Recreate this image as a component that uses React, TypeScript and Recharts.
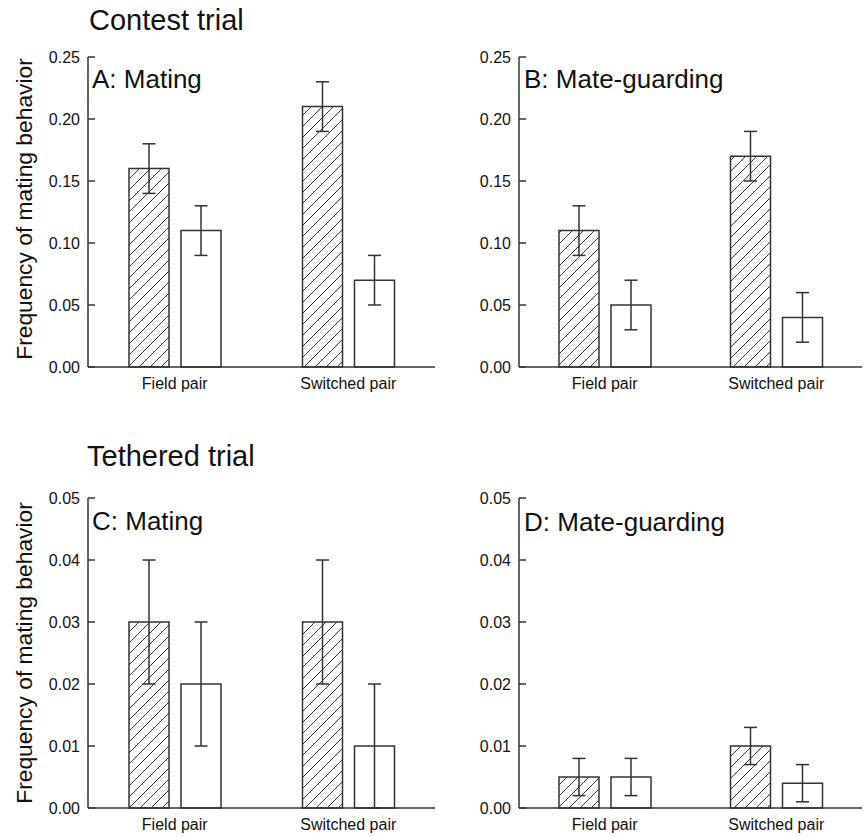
import React from "react";
import { Bar, BarChart, ErrorBar, XAxis, YAxis } from "recharts";

const FONT = '"Liberation Sans", Arial, Helvetica, sans-serif';
const INK = "#333333";

const pairs = ["Field pair", "Switched pair"];

// contest trial
const contestMatingHatched = [0.16, 0.21];
const contestMatingHatchedErr = [0.02, 0.02];
const contestMatingOpen = [0.11, 0.07];
const contestMatingOpenErr = [0.02, 0.02];

const contestGuardHatched = [0.11, 0.17];
const contestGuardHatchedErr = [0.02, 0.02];
const contestGuardOpen = [0.05, 0.04];
const contestGuardOpenErr = [0.02, 0.02];

// tethered trial
const tetheredMatingHatched = [0.03, 0.03];
const tetheredMatingHatchedErr = [0.01, 0.01];
const tetheredMatingOpen = [0.02, 0.01];
const tetheredMatingOpenErr = [0.01, 0.01];

const tetheredGuardHatched = [0.005, 0.01];
const tetheredGuardHatchedErr = [0.003, 0.003];
const tetheredGuardOpen = [0.005, 0.004];
const tetheredGuardOpenErr = [0.003, 0.003];

const contestTicks = [0, 0.05, 0.1, 0.15, 0.2, 0.25];
const tetheredTicks = [0, 0.01, 0.02, 0.03, 0.04, 0.05];

function buildRows(
  hatched: number[],
  hatchedErr: number[],
  open: number[],
  openErr: number[]
) {
  return pairs.map((pair, i) => ({
    pair,
    hatched: hatched[i],
    hatchedErr: hatchedErr[i],
    open: open[i],
    openErr: openErr[i]
  }));
}

interface PanelProps {
  rows: ReturnType<typeof buildRows>;
  ticks: number[];
  left: number;
  top: number;
  width: number;
  height: number;
  margin: { top: number; right: number; bottom: number; left: number };
  patternId: string;
}

function Panel({ rows, ticks, left, top, width, height, margin, patternId }: PanelProps) {
  const line = { stroke: INK, strokeWidth: 1.5 };
  const tickStyle = { fill: "#111", fontSize: 16, fontFamily: FONT };
  return (
    <div style={{ position: "absolute", left, top }}>
      <BarChart width={width} height={height} data={rows} margin={margin} barGap={12} barSize={40}>
        <defs>
          <pattern id={patternId} patternUnits="userSpaceOnUse" width={11} height={11}>
            <rect width={11} height={11} fill="#fff" />
            <path d="M0,11 L11,0 M-2,2 L2,-2 M9,13 L13,9" stroke={INK} strokeWidth={1} />
          </pattern>
        </defs>
        <XAxis
          dataKey="pair"
          height={25}
          tickLine={false}
          axisLine={line}
          tickMargin={5}
          tick={tickStyle}
        />
        <XAxis
          xAxisId="top"
          dataKey="pair"
          orientation="top"
          height={0}
          tick={false}
          tickLine={false}
          axisLine={line}
        />
        <YAxis
          domain={[0, ticks[ticks.length - 1]]}
          ticks={ticks}
          interval={0}
          width={60}
          tickSize={-7}
          tickMargin={15}
          axisLine={line}
          tickLine={line}
          tick={tickStyle}
          tickFormatter={(v: number) => v.toFixed(2)}
        />
        <YAxis
          yAxisId="right"
          orientation="right"
          width={0}
          tick={false}
          tickLine={false}
          axisLine={line}
        />
        <Bar
          dataKey="hatched"
          fill={`url(#${patternId})`}
          stroke={INK}
          strokeWidth={1.5}
          isAnimationActive={false}
        >
          <ErrorBar dataKey="hatchedErr" width={6.5} stroke={INK} strokeWidth={1.5} isAnimationActive={false} />
        </Bar>
        <Bar dataKey="open" fill="#fff" stroke={INK} strokeWidth={1.5} isAnimationActive={false}>
          <ErrorBar dataKey="openErr" width={6.5} stroke={INK} strokeWidth={1.5} isAnimationActive={false} />
        </Bar>
      </BarChart>
    </div>
  );
}

export default function App() {
  const topMargin = (left: number, right: number) => ({ top: 57, right, bottom: 28, left });
  const bottomMargin = (left: number, right: number) => ({ top: 78, right, bottom: 4, left });

  return (
    <div
      style={{
        position: "absolute",
        left: 0,
        top: 0,
        width: 866,
        height: 837,
        background: "#fff",
        fontFamily: FONT
      }}
    >
      <Panel
        rows={buildRows(contestMatingHatched, contestMatingHatchedErr, contestMatingOpen, contestMatingOpenErr)}
        ticks={contestTicks}
        left={0}
        top={0}
        width={440}
        height={420}
        margin={topMargin(28, 5)}
        patternId="hatchA"
      />
      <Panel
        rows={buildRows(contestGuardHatched, contestGuardHatchedErr, contestGuardOpen, contestGuardOpenErr)}
        ticks={contestTicks}
        left={440}
        top={0}
        width={426}
        height={420}
        margin={topMargin(19, 4)}
        patternId="hatchB"
      />
      <Panel
        rows={buildRows(tetheredMatingHatched, tetheredMatingHatchedErr, tetheredMatingOpen, tetheredMatingOpenErr)}
        ticks={tetheredTicks}
        left={0}
        top={420}
        width={440}
        height={417}
        margin={bottomMargin(28, 5)}
        patternId="hatchC"
      />
      <Panel
        rows={buildRows(tetheredGuardHatched, tetheredGuardHatchedErr, tetheredGuardOpen, tetheredGuardOpenErr)}
        ticks={tetheredTicks}
        left={440}
        top={420}
        width={426}
        height={417}
        margin={bottomMargin(19, 4)}
        patternId="hatchD"
      />

      {/* titles, panel letters and y-axis labels */}
      <svg
        width={866}
        height={837}
        style={{ position: "absolute", left: 0, top: 0, pointerEvents: "none" }}
        fontFamily={FONT}
        fill="#111"
      >
        <text x={89} y={30} fontSize={29}>Contest trial</text>
        <text x={87} y={466} fontSize={29}>Tethered trial</text>

        <text x={92} y={88} fontSize={26}>A: Mating</text>
        <text x={524} y={88} fontSize={26}>B: Mate-guarding</text>
        <text x={92} y={530} fontSize={26}>C: Mating</text>
        <text x={524} y={531} fontSize={26}>D: Mate-guarding</text>

        <text x={32} y={209} fontSize={22.8} textAnchor="middle" transform="rotate(-90, 32, 209)">
          Frequency of mating behavior
        </text>
        <text x={32} y={653} fontSize={22.8} textAnchor="middle" transform="rotate(-90, 32, 653)">
          Frequency of mating behavior
        </text>
      </svg>
    </div>
  );
}
